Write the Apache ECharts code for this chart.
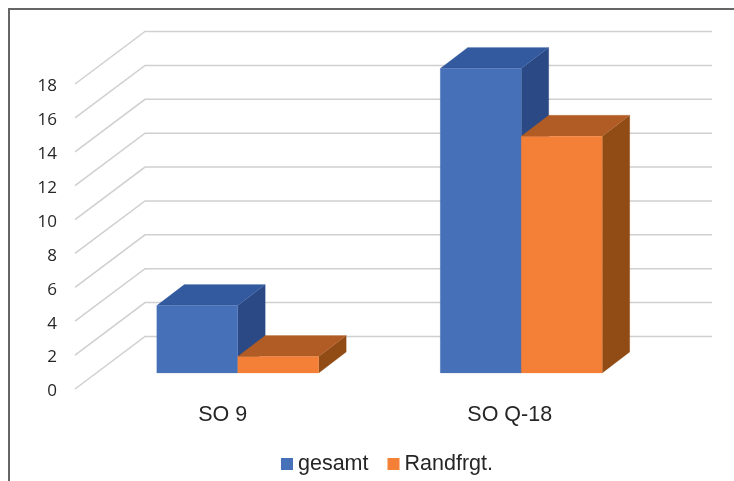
<!DOCTYPE html>
<html>
<head>
<meta charset="utf-8">
<style>html,body{margin:0;padding:0;background:#fff}#c{width:734px;height:481px}</style>
<script src="https://cdn.jsdelivr.net/npm/echarts@6/dist/echarts.min.js"></script>
</head>
<body>
<div id="c"></div>
<script>
var categories = ['SO 9', 'SO Q-18'];
var gesamt = [4, 18];
var randfrgt = [1, 14];
var yTicks = [0, 2, 4, 6, 8, 10, 12, 14, 16, 18];

var LABEL_DROP = 2.5;
var WALL_DX = 70, WALL_DY = -52.5;
var GAP_DX = 21, GAP_DY = -16;
var BAR_DX = 27.5, BAR_DY = -21;
var BAR_FRACTION = 0.2857;

function poly(points, color) {
  return { type: 'polygon', shape: { points: points }, style: { fill: color, stroke: color, lineWidth: 0.2 } };
}
function barRenderer(sign, front, top, side) {
  return function (params, api) {
    var p = api.coord([api.value(0), api.value(1)]);
    var base = api.coord([api.value(0), 0]);
    var w = api.size([1, 0])[0] * BAR_FRACTION;
    var x0 = p[0] + GAP_DX + (sign < 0 ? -w : 0);
    var x1 = x0 + w;
    var yT = p[1] - LABEL_DROP + GAP_DY + 0.4;
    var yB = base[1] - LABEL_DROP + GAP_DY;
    return {
      type: 'group',
      children: [
        poly([[x1, yT], [x1 + BAR_DX, yT + BAR_DY], [x1 + BAR_DX, yB + BAR_DY], [x1, yB]], side),
        poly([[x0, yT], [x0 + BAR_DX, yT + BAR_DY], [x1 + BAR_DX, yT + BAR_DY], [x1, yT]], top),
        poly([[x0, yT], [x1, yT], [x1, yB], [x0, yB]], front)
      ]
    };
  };
}
function pairs(values) {
  return values.map(function (v, i) { return [i, v]; });
}

var chart = echarts.init(document.getElementById('c'), null, { renderer: 'canvas' });
chart.setOption({
  animation: false,
  backgroundColor: '#ffffff',
  grid: { left: 75, top: 86.5, width: 567, height: 305 },
  graphic: [
    { type: 'line', z: 10, shape: { x1: 9, y1: 481, x2: 9, y2: 9 }, style: { stroke: '#666666', lineWidth: 2 } },
    { type: 'line', z: 10, shape: { x1: 8, y1: 9, x2: 734, y2: 9 }, style: { stroke: '#666666', lineWidth: 2 } }
  ],
  legend: {
    data: ['gesamt', 'Randfrgt.'],
    left: 281,
    top: 453,
    padding: 0,
    icon: 'rect',
    itemWidth: 12,
    itemHeight: 12,
    itemGap: 19,
    textStyle: { fontFamily: 'Liberation Sans', fontSize: 21.5, color: '#262626' }
  },
  xAxis: {
    type: 'category',
    boundaryGap: true,
    data: [
      { value: categories[0], textStyle: { padding: [0, 0, 0, 12] } },
      { value: categories[1], textStyle: { padding: [0, 0, 0, 19] } }
    ],
    axisLine: { show: false },
    axisTick: { show: false },
    splitLine: { show: false },
    axisLabel: { margin: 13, fontFamily: 'Liberation Sans', fontSize: 21.5, color: '#262626' }
  },
  yAxis: {
    type: 'value',
    min: 0,
    max: 18,
    interval: 2,
    axisLine: { show: false },
    axisTick: { show: false },
    splitLine: { show: false },
    axisLabel: { margin: 18, fontFamily: 'Open Sans', fontSize: 17, color: '#262626' }
  },
  series: [
    {
      name: 'wall',
      type: 'custom',
      silent: true,
      z: 1,
      data: yTicks.map(function (v) { return [0, v]; }),
      encode: { x: 0, y: 1 },
      renderItem: function (params, api) {
        var y = api.coord([0, api.value(1)])[1] - LABEL_DROP;
        var cs = params.coordSys;
        return {
          type: 'polyline',
          shape: { points: [[cs.x, y], [cs.x + WALL_DX, y + WALL_DY], [cs.x + cs.width + WALL_DX, y + WALL_DY]] },
          style: { stroke: '#d0d0d0', lineWidth: 1.5, fill: null }
        };
      }
    },
    {
      name: 'gesamt',
      type: 'custom',
      z: 2,
      itemStyle: { color: '#4670b7' },
      data: pairs(gesamt),
      encode: { x: 0, y: 1 },
      renderItem: barRenderer(-1, '#4670b7', '#335a9f', '#2b4a85')
    },
    {
      name: 'Randfrgt.',
      type: 'custom',
      z: 3,
      itemStyle: { color: '#f38036' },
      data: pairs(randfrgt),
      encode: { x: 0, y: 1 },
      renderItem: barRenderer(1, '#f38036', '#b05c24', '#914c16')
    }
  ]
});
</script>
</body>
</html>
